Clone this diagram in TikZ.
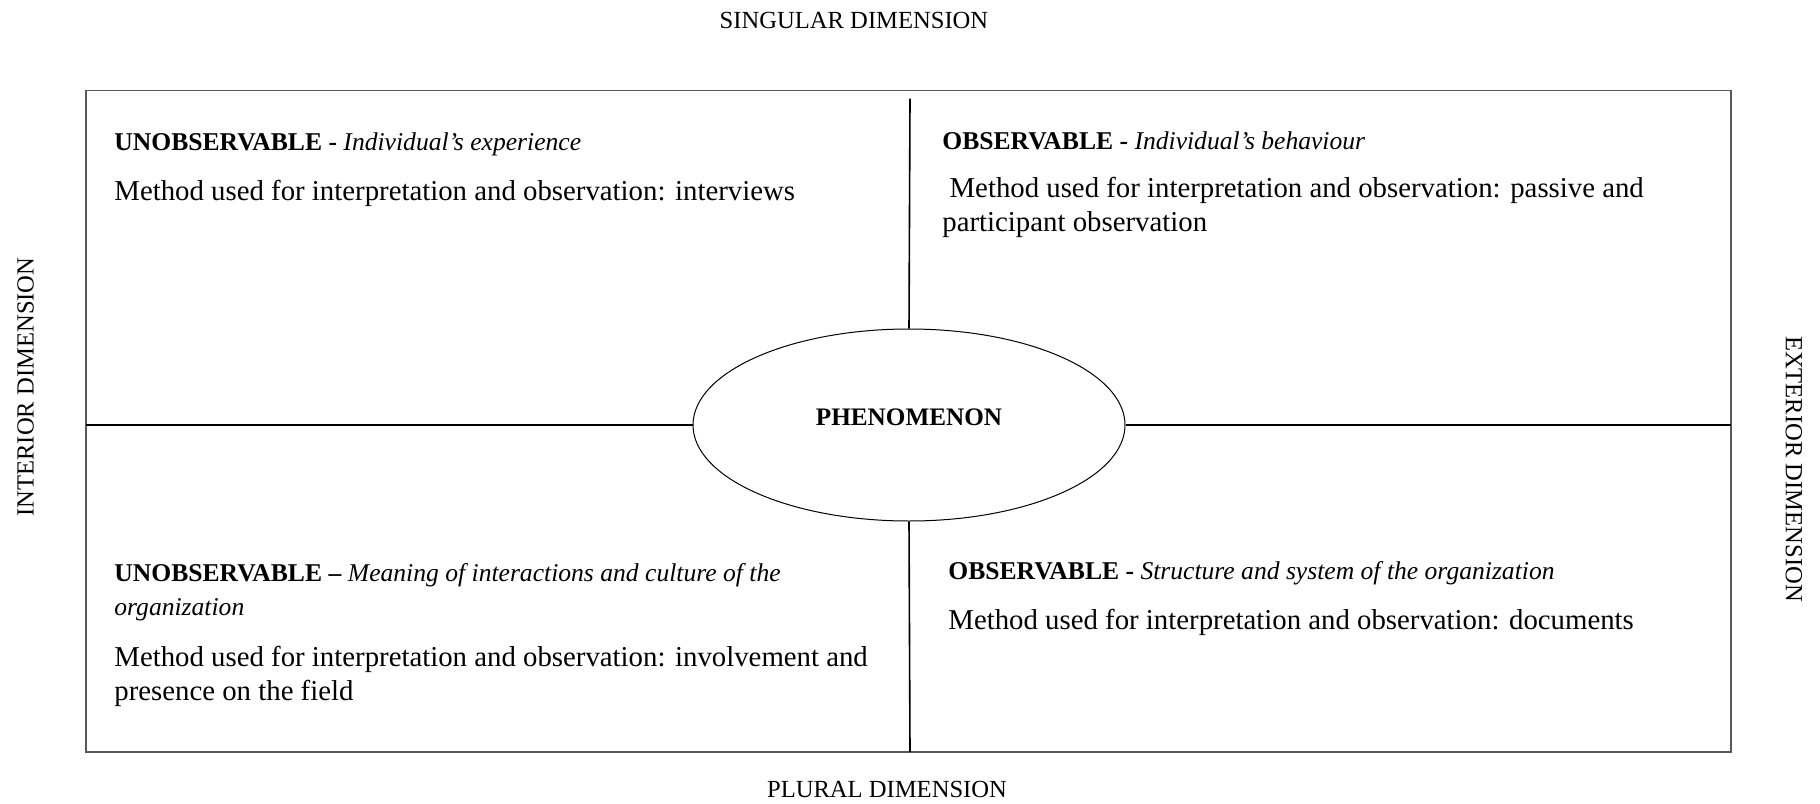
\documentclass[tikz,border=0pt]{standalone}
\usepackage{fontspec}
\setmainfont{Liberation Serif}
\usetikzlibrary{shapes.geometric}

\tikzset{
  dimlabel/.style={font=\fontsize{12.3}{14}\selectfont},
  quadhead/.style={anchor=west,align=left,inner xsep=0pt,font=\fontsize{12.8}{17}\selectfont},
  quadtext/.style={anchor=west,align=left,inner xsep=0pt,font=\fontsize{14.4}{17}\selectfont},
  phenom/.style={ellipse,draw,line width=0.5pt,minimum width=216pt,minimum height=96pt,inner sep=0pt},
  axis/.style={line width=0.8pt}
}

\begin{document}
\begin{tikzpicture}[x=0.5pt,y=-0.5pt]
  \useasboundingbox (0,0) rectangle (1820,803);

  % outer frame
  \draw[black!65,line width=0.9pt] (86,90.5) rectangle (1731,752);

  % centre
  \node[phenom] (phen) at (909,425) {};
  \node[font=\fontsize{12.6}{14}\selectfont\bfseries] (phentxt) at (909,417) {PHENOMENON};

  \coordinate (topend) at (910,98.7);
  \coordinate (botend) at (910,752);
  \coordinate (leftend) at (86,425);
  \coordinate (rightend) at (1731,425);
  \draw[axis] (topend) -- (phen.north);
  \draw[axis] (phen.south) -- (botend);
  \draw[axis] (leftend) -- (phen.west);
  \draw[axis] (phen.east) -- (rightend);

  % dimensions
  \node[dimlabel] (singular) at (854,20) {SINGULAR DIMENSION};
  \node[dimlabel] (plural) at (887,789) {PLURAL DIMENSION};
  \node[dimlabel,rotate=90] (interior) at (25.5,387) {INTERIOR DIMENSION};
  \node[dimlabel,rotate=-90] (exterior) at (1794,469) {EXTERIOR DIMENSION};

  % quadrants
  \node[quadhead] (tlhead) at (114,144) {\textbf{UNOBSERVABLE -} \textit{Individual’s experience}};
  \node[quadtext] (tltext) at (114,193) {Method used for interpretation and observation: interviews};

  \node[quadhead] (trhead) at (942,141) {\textbf{OBSERVABLE -} \textit{Individual’s behaviour}};
  \node[quadtext] (trtext) at (942,207) {\ Method used for interpretation and observation: passive and\\participant observation};

  \node[quadhead] (blhead) at (114,592) {\textbf{UNOBSERVABLE –} \textit{Meaning of interactions and culture of the}\\\textit{organization}};
  \node[quadtext] (bltext) at (114,676.5) {Method used for interpretation and observation: involvement and\\presence on the field};

  \node[quadhead] (brhead) at (948,573) {\textbf{OBSERVABLE -} \textit{Structure and system of the organization}};
  \node[quadtext] (brtext) at (948,622) {Method used for interpretation and observation: documents};
\end{tikzpicture}
\end{document}
